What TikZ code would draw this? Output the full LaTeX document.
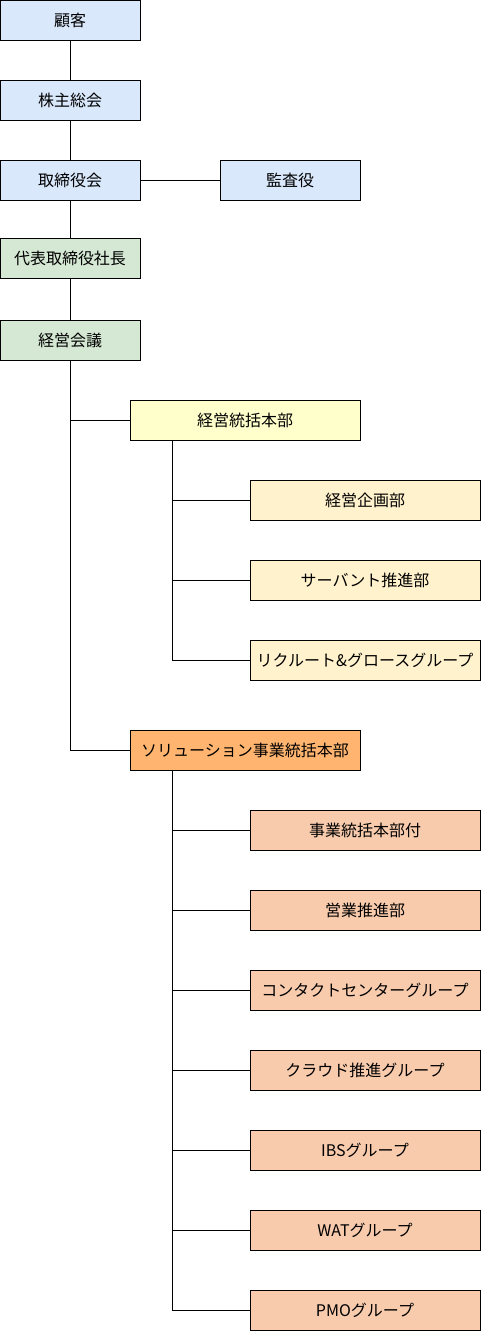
\documentclass[tikz,border=0pt]{standalone}
\usepackage{fontspec}
\setmainfont{Noto Sans CJK JP}
\begin{document}
\begin{tikzpicture}[x=1pt,y=-1pt,
  box/.style={draw=black,line width=1pt,rectangle,minimum height=40pt,inner sep=0pt,font=\fontsize{16pt}{19pt}\selectfont},
  narrow/.style={box,minimum width=140pt},
  wide/.style={box,minimum width=230pt},
  link/.style={draw=black,line width=1pt}]
\definecolor{cblue}{HTML}{DAE8FC}
\definecolor{cgreen}{HTML}{D5E8D4}
\definecolor{cyel}{HTML}{FFFFCC}
\definecolor{cyellight}{HTML}{FFF2CC}
\definecolor{corange}{HTML}{FFB570}
\definecolor{cpeach}{HTML}{F8CBAD}
\useasboundingbox (0,0) rectangle (481,1331);
\fill[white] (0,0) rectangle (481,1331);
% top chain
\node[narrow,fill=cblue] (kokyaku) at (70,20) {顧客};
\node[narrow,fill=cblue] (kabunushi) at (70,100) {株主総会};
\node[narrow,fill=cblue] (torishimari) at (70,180) {取締役会};
\node[narrow,fill=cblue] (kansa) at (290,180) {監査役};
\node[narrow,fill=cgreen] (shacho) at (70,258) {代表取締役社長};
\node[narrow,fill=cgreen] (kaigi) at (70,340) {経営会議};
% divisions
\node[wide,fill=cyel] (keiei) at (245,420) {経営統括本部};
\node[wide,fill=cyellight] (kikaku) at (365,500) {経営企画部};
\node[wide,fill=cyellight] (servant) at (365,580) {サーバント推進部};
\node[wide,fill=cyellight] (recruit) at (365,660) {リクルート\&グロースグループ};
\node[wide,fill=corange] (solution) at (245,750) {ソリューション事業統括本部};
\node[wide,fill=cpeach] (fuzoku) at (365,830) {事業統括本部付};
\node[wide,fill=cpeach] (eigyo) at (365,910) {営業推進部};
\node[wide,fill=cpeach] (contact) at (365,990) {コンタクトセンターグループ};
\node[wide,fill=cpeach] (cloud) at (365,1070) {クラウド推進グループ};
\node[wide,fill=cpeach] (ibs) at (365,1150) {IBSグループ};
\node[wide,fill=cpeach] (wat) at (365,1230) {WATグループ};
\node[wide,fill=cpeach] (pmo) at (365,1310) {PMOグループ};
% connectors
\draw[link] (kokyaku) -- (kabunushi);
\draw[link] (kabunushi) -- (torishimari);
\draw[link] (torishimari) -- (kansa);
\draw[link] (torishimari) -- (shacho);
\draw[link] (shacho) -- (kaigi);
\draw[link] (kaigi.south) |- (keiei.west);
\draw[link] (kaigi.south) |- (solution.west);
\coordinate (keieitrunk) at ([xshift=43pt]keiei.south west);
\coordinate (soltrunk) at ([xshift=43pt]solution.south west);
\foreach \c in {kikaku,servant,recruit}
  \draw[link] (keieitrunk) |- (\c.west);
\foreach \c in {fuzoku,eigyo,contact,cloud,ibs,wat,pmo}
  \draw[link] (soltrunk) |- (\c.west);
\end{tikzpicture}
\end{document}
